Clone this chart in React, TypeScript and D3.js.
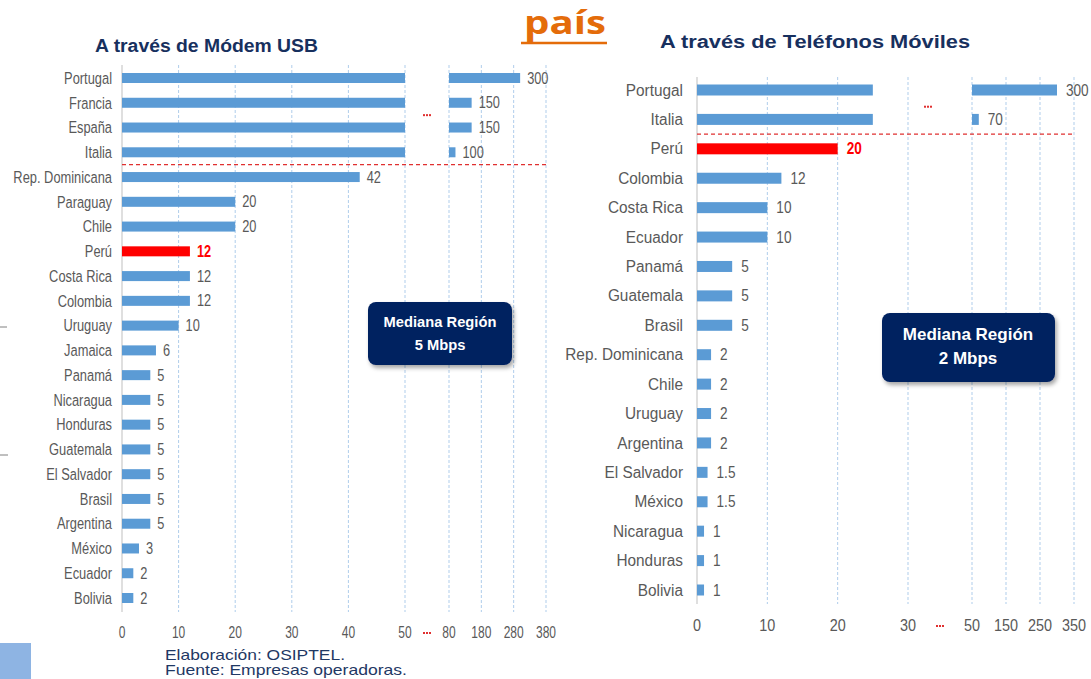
import * as d3 from 'd3'

// ---- data: Módem USB (Mbps)
const usbCountries = [
  'Portugal', 'Francia', 'España', 'Italia', 'Rep. Dominicana', 'Paraguay', 'Chile', 'Perú',
  'Costa Rica', 'Colombia', 'Uruguay', 'Jamaica', 'Panamá', 'Nicaragua', 'Honduras',
  'Guatemala', 'El Salvador', 'Brasil', 'Argentina', 'México', 'Ecuador', 'Bolivia',
]
const usbValues = [300, 150, 150, 100, 42, 20, 20, 12, 12, 12, 10, 6, 5, 5, 5, 5, 5, 5, 5, 3, 2, 2]
const usbTicksLow = [0, 10, 20, 30, 40, 50]
const usbTicksHigh = [80, 180, 280, 380]

// ---- data: Teléfonos Móviles (Mbps)
const movilCountries = [
  'Portugal', 'Italia', 'Perú', 'Colombia', 'Costa Rica', 'Ecuador', 'Panamá', 'Guatemala',
  'Brasil', 'Rep. Dominicana', 'Chile', 'Uruguay', 'Argentina', 'El Salvador', 'México',
  'Nicaragua', 'Honduras', 'Bolivia',
]
const movilValues = [300, 70, 20, 12, 10, 10, 5, 5, 5, 2, 2, 2, 2, 1.5, 1.5, 1, 1, 1]
const movilTicksLow = [0, 10, 20, 30]
const movilTicksHigh = [50, 150, 250, 350]

const highlight = 'Perú'
const BLUE = '#5B9BD5'
const RED = '#FF0000'
const GRID = '#AFCDEB'
const TEXT = '#595959'
const NAVY = '#002060'
const FONT = "'Liberation Sans', Arial, sans-serif"

type STextProps = {
  x: number
  y: number
  sx?: number
  size: number
  anchor?: 'start' | 'middle' | 'end'
  fill?: string
  weight?: string | number
  children: React.ReactNode
}

// text squeezed horizontally (the source uses a narrow face)
function SText({ x, y, sx = 1, size, anchor = 'start', fill = TEXT, weight = 'normal', children }: STextProps) {
  return (
    <text
      transform={`translate(${x},${y}) scale(${sx},1)`}
      textAnchor={anchor}
      fontSize={size}
      fontFamily={FONT}
      fontWeight={weight}
      fill={fill}
    >
      {children}
    </text>
  )
}

function Dots({ cx, cy }: { cx: number; cy: number }) {
  return (
    <g fill="#E03030">
      {[-3, 0, 3].map((d) => (
        <rect key={d} x={cx + d - 1} y={cy - 1} width={2} height={2} />
      ))}
    </g>
  )
}

type BrokenChartProps = {
  countries: string[]
  values: number[]
  ticksLow: number[]
  ticksHigh: number[]
  low: d3.ScaleLinear<number, number>
  high: d3.ScaleLinear<number, number>
  y: d3.ScalePoint<string>
  clip: number
  gridTop: number
  gridBottom: number
  tickY: number
  sepAfter: string
  cat: { size: number; sx: number; gap: number }
  val: { size: number; sx: number; gap: number }
  tick: { size: number; sx: number }
  topDots: [number, number]
  barH: number
}

function BrokenChart(p: BrokenChartProps) {
  const x0 = p.low(0)
  const hStart = p.high.domain()[0]
  const sepIdx = p.countries.indexOf(p.sepAfter)
  const sepY = ((p.y(p.countries[sepIdx]) ?? 0) + (p.y(p.countries[sepIdx + 1]) ?? 0)) / 2
  const axisDotsX = (p.low(p.low.domain()[1]) + p.high(hStart)) / 2
  return (
    <g>
      {/* grid */}
      {[...p.ticksLow.slice(1).map((t) => p.low(t)), ...p.ticksHigh.map((t) => p.high(t))].map((gx, i) => (
        <line key={i} x1={gx} x2={gx} y1={p.gridTop} y2={p.gridBottom} stroke={GRID} strokeDasharray="3,2" strokeWidth={1} />
      ))}
      <line x1={x0} x2={x0} y1={p.gridTop} y2={p.gridBottom} stroke="#BFBFBF" strokeWidth={1} />

      {/* bars */}
      {p.countries.map((c, i) => {
        const v = p.values[i]
        const cy = p.y(c) ?? 0
        const isHi = c === highlight
        const fill = isHi ? RED : BLUE
        const lowEnd = p.low(Math.min(v, p.clip))
        const labelX = v > p.clip ? p.high(v) + p.val.gap : lowEnd + p.val.gap
        return (
          <g key={c}>
            <SText x={x0 - p.cat.gap} y={cy + p.cat.size * 0.35} sx={p.cat.sx} size={p.cat.size} anchor="end">
              {c}
            </SText>
            <rect x={x0} y={cy - p.barH / 2} width={lowEnd - x0} height={p.barH} fill={fill} />
            {v > hStart && (
              <rect x={p.high(hStart)} y={cy - p.barH / 2} width={p.high(v) - p.high(hStart)} height={p.barH} fill={fill} />
            )}
            <SText
              x={labelX}
              y={cy + p.val.size * 0.35}
              sx={p.val.sx}
              size={p.val.size}
              fill={isHi ? RED : TEXT}
              weight={isHi ? 'bold' : 'normal'}
            >
              {String(v)}
            </SText>
          </g>
        )
      })}

      {/* separator */}
      <line x1={x0} x2={p.high(p.high.domain()[1])} y1={sepY} y2={sepY} stroke="#E03030" strokeWidth={1.2} strokeDasharray="4,3" />

      {/* ticks */}
      {p.ticksLow.map((t) => (
        <SText key={'l' + t} x={p.low(t)} y={p.tickY} sx={p.tick.sx} size={p.tick.size} anchor="middle">
          {String(t)}
        </SText>
      ))}
      {p.ticksHigh.map((t) => (
        <SText key={'h' + t} x={p.high(t)} y={p.tickY} sx={p.tick.sx} size={p.tick.size} anchor="middle">
          {String(t)}
        </SText>
      ))}
      <Dots cx={axisDotsX} cy={p.tickY - 5} />
      <Dots cx={p.topDots[0]} cy={p.topDots[1]} />
    </g>
  )
}

export default function App() {
  const usbLow = d3.scaleLinear().domain([0, 50]).range([122, 405])
  const usbHigh = d3.scaleLinear().domain([80, 380]).range([449, 546])
  const usbY = d3.scalePoint<string>().domain(usbCountries).range([78, 598])

  const movLow = d3.scaleLinear().domain([0, 30]).range([697, 908])
  const movHigh = d3.scaleLinear().domain([50, 350]).range([972, 1074])
  const movY = d3.scalePoint<string>().domain(movilCountries).range([90, 590])

  const usbDotY = ((usbY('Francia') ?? 0) + (usbY('España') ?? 0)) / 2
  const movDotY = ((movY('Portugal') ?? 0) + (movY('Italia') ?? 0)) / 2 + 2

  return (
    <svg width={1091} height={679} style={{ position: 'absolute', left: 0, top: 0, background: '#fff' }}>
      <defs>
        <filter id="shadow" x="-10%" y="-10%" width="130%" height="140%">
          <feDropShadow dx={2} dy={3} stdDeviation={2} floodColor="#000" floodOpacity={0.35} />
        </filter>
      </defs>
      <rect width={1091} height={679} fill="#fff" />

      {/* heading fragment */}
      <text x={524} y={34} fontSize={31.5} fontWeight="bold" fontFamily="'Open Sans', sans-serif" fill="#E46C0A" textLength={82} lengthAdjust="spacingAndGlyphs">
        país
      </text>
      <line x1={521} x2={607} y1={43} y2={43} stroke="#E46C0A" strokeWidth={2.5} />

      {/* titles */}
      <text x={95} y={52} fontSize={17.5} fontWeight="bold" fontFamily={FONT} fill="#17305E" textLength={223} lengthAdjust="spacingAndGlyphs">
        A través de Módem USB
      </text>
      <text x={660} y={48} fontSize={18} fontWeight="bold" fontFamily={FONT} fill="#17305E" textLength={310} lengthAdjust="spacingAndGlyphs">
        A través de Teléfonos Móviles
      </text>

      <BrokenChart
        countries={usbCountries}
        values={usbValues}
        ticksLow={usbTicksLow}
        ticksHigh={usbTicksHigh}
        low={usbLow}
        high={usbHigh}
        y={usbY}
        clip={50}
        gridTop={65}
        gridBottom={612}
        tickY={638}
        sepAfter="Italia"
        cat={{ size: 16.5, sx: 0.78, gap: 10 }}
        val={{ size: 16, sx: 0.8, gap: 7 }}
        tick={{ size: 16, sx: 0.75 }}
        topDots={[(usbLow(50) + usbHigh(80)) / 2, usbDotY]}
        barH={10}
      />

      <BrokenChart
        countries={movilCountries}
        values={movilValues}
        ticksLow={movilTicksLow}
        ticksHigh={movilTicksHigh}
        low={movLow}
        high={movHigh}
        y={movY}
        clip={25}
        gridTop={77}
        gridBottom={604}
        tickY={631}
        sepAfter="Italia"
        cat={{ size: 16, sx: 0.96, gap: 14 }}
        val={{ size: 16, sx: 0.85, gap: 9 }}
        tick={{ size: 16, sx: 0.9 }}
        topDots={[928, movDotY]}
        barH={11}
      />

      {/* median boxes */}
      <g filter="url(#shadow)">
        <rect x={368} y={302} width={144} height={63} rx={8} fill={NAVY} />
        <rect x={882} y={313} width={173} height={69} rx={8} fill={NAVY} />
      </g>
      <SText x={440} y={327} sx={0.95} size={15.5} anchor="middle" fill="#fff" weight="bold">Mediana Región</SText>
      <SText x={440} y={350} sx={0.95} size={15.5} anchor="middle" fill="#fff" weight="bold">5 Mbps</SText>
      <SText x={968} y={340} sx={1} size={17} anchor="middle" fill="#fff" weight="bold">Mediana Región</SText>
      <SText x={968} y={364} sx={1} size={17} anchor="middle" fill="#fff" weight="bold">2 Mbps</SText>

      {/* left edge marks */}
      <line x1={0} x2={7} y1={327} y2={327} stroke="#808080" strokeWidth={1} />
      <line x1={0} x2={8} y1={455} y2={455} stroke="#808080" strokeWidth={1} />

      {/* footer */}
      <rect x={0} y={643} width={31} height={36} fill="#8EB4E3" />
      <text x={165} y={660} fontSize={15} fontFamily={FONT} fill="#1F3864" textLength={180} lengthAdjust="spacingAndGlyphs">
        Elaboración: OSIPTEL.
      </text>
      <text x={165} y={675} fontSize={15} fontFamily={FONT} fill="#1F3864" textLength={242} lengthAdjust="spacingAndGlyphs">
        Fuente: Empresas operadoras.
      </text>
    </svg>
  )
}
